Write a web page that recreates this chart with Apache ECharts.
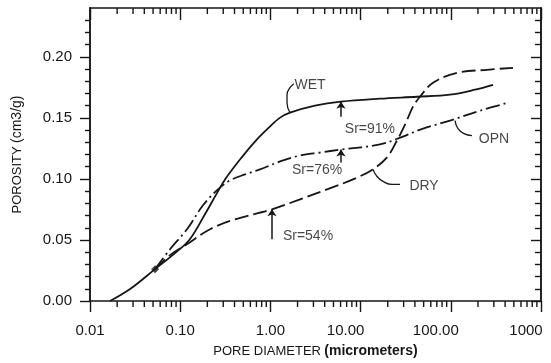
<!DOCTYPE html>
<html>
<head>
<meta charset="utf-8">
<script src="https://cdn.jsdelivr.net/npm/echarts@6/dist/echarts.min.js"></script>
<style>
  html, body { margin: 0; background: #fff; }
  #chart { width: 551px; height: 363px; }
</style>
</head>
<body>
<div id="chart"></div>
<script>
// axis ticks
const xTickLabels = ["0.01", "0.10", "1.00", "10.00", "100.00", "1000"];
const xDecades = [0.01, 0.1, 1, 10, 100];
const xMinorSteps = [2, 3, 4, 5, 6, 7, 8, 9];
const yMajorTicks = [0, 0.05, 0.1, 0.15, 0.2];
const yMinorTicks = [0.01, 0.02, 0.03, 0.04, 0.06, 0.07, 0.08, 0.09, 0.11, 0.12,
  0.13, 0.14, 0.16, 0.17, 0.18, 0.19, 0.21, 0.22, 0.23];

// curves: [pore diameter (micrometers), porosity (cm3/g)]
const wet = [
  [0.0167, 0], [0.0278, 0.0098], [0.0526, 0.0261], [0.0876, 0.0392], [0.128, 0.0506],
  [0.188, 0.071], [0.262, 0.0898], [0.314, 0.0996], [0.46, 0.1159], [0.675, 0.1306],
  [0.99, 0.1429], [1.28, 0.1502], [1.65, 0.1543], [3.12, 0.16], [6.06, 0.1633],
  [16.4, 0.1657], [42.2, 0.1673], [98, 0.169], [186, 0.1731], [294, 0.1771],
];
const opn = [
  [0.0526, 0.0261], [0.0771, 0.0424], [0.119, 0.0588], [0.179, 0.0784], [0.262, 0.0914],
  [0.357, 0.0988], [0.523, 0.1037], [0.767, 0.1078], [1.28, 0.1143], [2.13, 0.1192],
  [3.55, 0.1216], [6.06, 0.1241], [16.4, 0.1282], [29.5, 0.1347], [49.2, 0.1412],
  [98, 0.1478], [211, 0.1559], [431, 0.1624],
];
const dry = [
  [0.0526, 0.0261], [0.0771, 0.0376], [0.119, 0.0465], [0.214, 0.0588], [0.405, 0.0669],
  [1.04, 0.0751], [2.13, 0.0833], [4.24, 0.0914], [8.24, 0.0996], [13.7, 0.1078],
  [19.6, 0.1176], [25.3, 0.1314], [31.1, 0.1445], [38.1, 0.1592], [45.5, 0.1673],
  [63.5, 0.1788], [117, 0.1869], [252, 0.1894], [490, 0.191],
];
const junction = [[0.0526, 0.0261]];

// saturation arrows
const srArrowX = [6.06, 6.06, 1.04];
const srArrowFrom = [0.151, 0.1135, 0.0506];
const srArrowTo = [0.1633, 0.1241, 0.0751];

// curve labels and their leader strokes
const noteText = ["WET", "OPN", "DRY", "Sr=91%", "Sr=76%", "Sr=54%"];
const noteX = [2.75, 301, 50.5, 12.7, 3.29, 2.61];
const noteY = [0.1771, 0.1322, 0.0939, 0.1404, 0.1069, 0.0531];
const leaders = [
  [1.649, 0.1543], [1.528, 0.1624], [1.528, 0.169], [1.649, 0.1747], [1.826, 0.178], null,
  [111.3, 0.1478], [120.2, 0.1412], [140, 0.1371], [171.8, 0.1355], null,
  [13.72, 0.1078], [15.2, 0.102], [17.72, 0.098], [22.29, 0.0955], [27.35, 0.0955],
];

const INK = "#161616";
const FONT = "'Liberation Sans', Arial, sans-serif";

// log minor ticks at 2..9 of each decade
const xMinorTicks = [];
xDecades.forEach((d) => xMinorSteps.forEach((s) => xMinorTicks.push([d * s, 0])));

function yAxisDef(position, ticks, length, inside, withLabels) {
  return {
    type: "value",
    position,
    min: 0,
    max: 0.24,
    axisLine: { show: true, onZero: false, lineStyle: { color: INK, width: 1.5 } },
    axisTick: { show: true, inside, length, customValues: ticks, lineStyle: { color: INK, width: 1.4 } },
    axisLabel: withLabels
      ? { show: true, customValues: ticks, margin: 18, color: INK, fontSize: 15, fontFamily: FONT,
          formatter: (v) => v.toFixed(2) }
      : { show: false },
    splitLine: { show: false },
  };
}

const yAxes = [
  yAxisDef("left", yMinorTicks, 5, false, false),
  yAxisDef("left", yMajorTicks, 10, false, true),
  yAxisDef("right", yMinorTicks, 6, true, false),
  yAxisDef("right", yMajorTicks, 10, true, false),
];
Object.assign(yAxes[1], {
  name: "{a|POROSITY} {b|(cm3/g)}",
  nameLocation: "middle",
  nameGap: 66,
  nameTextStyle: {
    color: INK,
    rich: {
      a: { fontSize: 13, fontFamily: FONT, color: INK },
      b: { fontSize: 14, fontFamily: FONT, color: INK },
    },
  },
});

const chart = echarts.init(document.getElementById("chart"), null, { renderer: "canvas" });

chart.setOption({
  animation: false,
  backgroundColor: "#fff",
  grid: { left: 90, right: 10, top: 8, bottom: 61 },
  xAxis: [
    {
      type: "log",
      logBase: 10,
      min: 0.01,
      max: 1000,
      position: "bottom",
      axisLine: { onZero: false, lineStyle: { color: INK, width: 1.5 } },
      axisTick: { show: true, inside: false, length: 11, lineStyle: { color: INK, width: 1.4 } },
      splitLine: { show: false },
      axisLabel: {
        margin: 22,
        color: INK,
        fontSize: 15,
        fontFamily: FONT,
        formatter: (v) => {
          const i = Math.round(Math.log10(v)) + 2;
          const t = xTickLabels[i];
          return i >= 3 ? `{sh|${t}}` : t;
        },
        rich: { sh: { padding: [0, 30, 0, 0], fontSize: 15, fontFamily: FONT, color: INK } },
      },
      name: "{a|PORE DIAMETER} {b|(micrometers)}",
      nameLocation: "middle",
      nameGap: 43,
      nameTextStyle: {
        rich: {
          a: { fontSize: 13, fontFamily: FONT, color: INK },
          b: { fontSize: 14, fontFamily: FONT, fontWeight: "bold", color: INK },
        },
      },
    },
    {
      type: "log",
      logBase: 10,
      min: 0.01,
      max: 1000,
      position: "top",
      axisLine: { onZero: false, lineStyle: { color: INK, width: 1.5 } },
      axisTick: { show: true, inside: true, length: 12, lineStyle: { color: INK, width: 1.4 } },
      axisLabel: { show: false },
      splitLine: { show: false },
    },
  ],
  yAxis: yAxes,
  series: [
    {
      name: "WET",
      type: "line",
      data: wet,
      smooth: 0.35,
      symbol: "none",
      lineStyle: { color: INK, width: 1.8 },
    },
    {
      name: "OPN",
      type: "line",
      data: opn,
      smooth: 0.35,
      symbol: "none",
      lineStyle: { color: INK, width: 1.8, type: [14, 4, 2, 4] },
    },
    {
      name: "DRY",
      type: "line",
      data: dry,
      smooth: 0.35,
      symbol: "none",
      lineStyle: { color: INK, width: 1.8, type: [14, 5] },
    },
    {
      name: "junction",
      type: "scatter",
      data: junction,
      symbol: "diamond",
      symbolSize: 8,
      itemStyle: { color: INK },
    },
    {
      name: "Sr arrows",
      type: "lines",
      coordinateSystem: "cartesian2d",
      data: srArrowX.map((x, i) => ({ coords: [[x, srArrowFrom[i]], [x, srArrowTo[i]]] })),
      symbol: ["none", "arrow"],
      symbolSize: [0, 7],
      lineStyle: { color: INK, width: 1.5, opacity: 1, curveness: 0 },
    },
    {
      name: "leaders",
      type: "line",
      data: leaders,
      smooth: 0.5,
      connectNulls: false,
      symbol: "none",
      lineStyle: { color: INK, width: 1.3 },
    },
    {
      name: "notes",
      type: "scatter",
      data: noteText.map((t, i) => ({ name: t, value: [noteX[i], noteY[i]] })),
      symbolSize: 1,
      itemStyle: { color: "rgba(0,0,0,0)" },
      label: {
        show: true,
        position: "inside",
        formatter: (p) => p.name,
        color: INK,
        fontSize: 14,
        fontFamily: FONT,
      },
    },
    {
      name: "minor x ticks",
      type: "custom",
      clip: false,
      data: xMinorTicks,
      renderItem: (params, api) => {
        const x = api.coord([api.value(0), 0])[0];
        const r = params.coordSys;
        const style = { stroke: INK, lineWidth: 1.4 };
        return {
          type: "group",
          children: [
            { type: "line", shape: { x1: x, y1: r.y + r.height, x2: x, y2: r.y + r.height + 6 }, style },
            { type: "line", shape: { x1: x, y1: r.y, x2: x, y2: r.y + 6 }, style },
          ],
        };
      },
    },
  ],
});
</script>
</body>
</html>
